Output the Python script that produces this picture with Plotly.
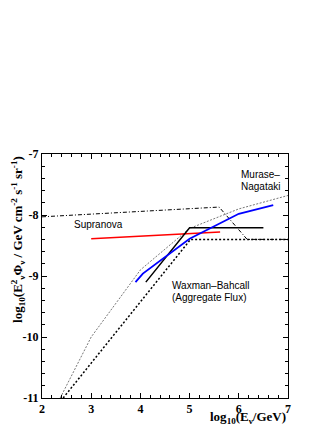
import plotly.graph_objects as go

# Data (log10 E [GeV], log10 E^2 Phi [GeV cm^-2 s^-1 sr^-1])
murase_x = [2.37, 3.0, 4.0, 5.0, 6.0, 7.0]
murase_y = [-11.0, -10.0, -8.9, -8.22, -7.9, -7.68]

blue_x = [3.9, 4.05, 5.0, 6.0, 6.7]
blue_y = [-9.1, -8.96, -8.39, -7.98, -7.84]

wb_x = [4.11, 5.0, 6.5]
wb_y = [-9.1, -8.21, -8.21]

red_x = [3.0, 5.62]
red_y = [-8.39, -8.28]

supranova_x = [2.0, 5.6, 6.17, 7.0]
supranova_y = [-8.03, -7.87, -8.4, -8.4]

aggregate_x = [2.43, 5.02, 7.0]
aggregate_y = [-11.0, -8.4, -8.4]

xticks = [2, 3, 4, 5, 6, 7]
yticks = [-7, -8, -9, -10, -11]

serif = "Liberation Serif"
sans = "Liberation Sans"

fig = go.Figure()
fig.add_trace(go.Scatter(x=murase_x, y=murase_y, mode="lines",
                         line=dict(color="#777777", width=1, dash="2px,1.5px")))
fig.add_trace(go.Scatter(x=aggregate_x, y=aggregate_y, mode="lines",
                         line=dict(color="black", width=1.5, dash="2px,2px")))
fig.add_trace(go.Scatter(x=supranova_x, y=supranova_y, mode="lines",
                         line=dict(color="black", width=1, dash="4px,2px,1px,2px")))
fig.add_trace(go.Scatter(x=red_x, y=red_y, mode="lines",
                         line=dict(color="red", width=1.5)))
fig.add_trace(go.Scatter(x=wb_x, y=wb_y, mode="lines",
                         line=dict(color="black", width=1.5)))
fig.add_trace(go.Scatter(x=blue_x, y=blue_y, mode="lines",
                         line=dict(color="blue", width=1.8)))

axis_common = dict(showline=True, linecolor="black", linewidth=1, mirror="allticks",
                   ticks="inside", ticklen=5, tickcolor="black", tickwidth=1,
                   showgrid=False, zeroline=False,
                   tickfont=dict(family=serif, size=12, color="black"))

fig.update_xaxes(range=[2, 7], tickvals=xticks,
                 ticktext=[f"<b>{v}</b>" for v in xticks],
                 minor=dict(ticks="inside", ticklen=3, dtick=0.2, tickcolor="black",
                            showgrid=False),
                 **axis_common)
fig.update_yaxes(range=[-11, -7], tickvals=yticks,
                 ticktext=[f"<b>{v}</b>" for v in yticks],
                 minor=dict(ticks="inside", ticklen=3, dtick=0.2, tickcolor="black",
                            showgrid=False),
                 **axis_common)

ann = []
def label(text, x, y):
    ann.append(dict(text=text, x=x, y=y, xref="x", yref="y", xanchor="left",
                    yanchor="middle", showarrow=False,
                    font=dict(family=sans, size=10, color="black")))

label("Murase\u2013", 6.0, -7.34)
label("Nagataki", 6.0, -7.54)
label("Supranova", 2.6, -8.15)
label("Waxman\u2013Bahcall", 4.6, -9.16)
label("(Aggregate Flux)", 4.6, -9.36)

ann.append(dict(text="<b>log<sub>10</sub>(E<sub>\u03bd</sub>/GeV)</b>", x=1.0, y=-0.035,
                xref="paper", yref="paper", xanchor="right", yanchor="top",
                showarrow=False, font=dict(family=serif, size=13, color="black")))
ann.append(dict(text="<b>log<sub>10</sub>(E<sup>2</sup><sub>\u03bd</sub>\u03a6<sub>\u03bd</sub> / GeV cm<sup>-2</sup> s<sup>-1</sup> sr<sup>-1</sup>)</b>",
                x=-0.10, y=1.0, xref="paper", yref="paper", xanchor="center",
                yanchor="top", textangle=-90, showarrow=False,
                font=dict(family=serif, size=13, color="black")))

fig.update_layout(width=332, height=430, showlegend=False,
                  margin=dict(l=42, r=44, t=154, b=32),
                  paper_bgcolor="white", plot_bgcolor="white",
                  annotations=ann)

fig.write_html("out.html", config={"displayModeBar": False},
               post_script="document.body.style.margin='0';document.body.style.overflow='hidden';")
